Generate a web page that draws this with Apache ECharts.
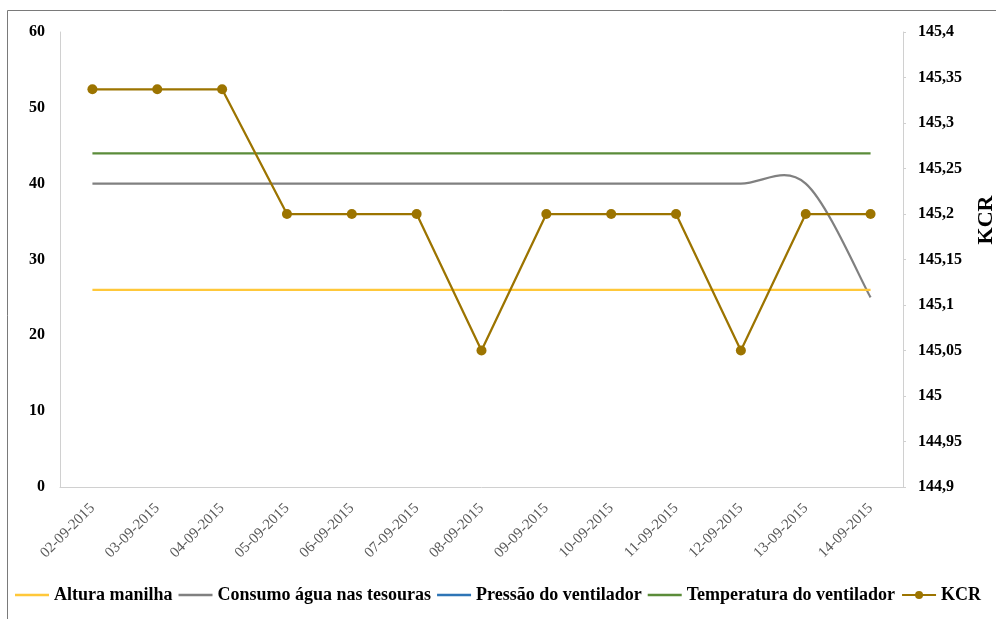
<!DOCTYPE html>
<html>
<head>
<meta charset="utf-8">
<script src="https://cdn.jsdelivr.net/npm/echarts@6/dist/echarts.min.js"></script>
<style>
  html, body { margin: 0; padding: 0; background: #fff; }
  #chart { width: 996px; height: 619px; }
</style>
</head>
<body>
<div id="chart"></div>
<script>
// Daily readings, 2 to 14 September 2015
const dates = ['02-09-2015', '03-09-2015', '04-09-2015', '05-09-2015', '06-09-2015', '07-09-2015',
  '08-09-2015', '09-09-2015', '10-09-2015', '11-09-2015', '12-09-2015', '13-09-2015', '14-09-2015'];

const alturaManilha = [26, 26, 26, 26, 26, 26, 26, 26, 26, 26, 26, 26, 26];
const consumoAgua = [40, 40, 40, 40, 40, 40, 40, 40, 40, 40, 40, 40, 25];
const pressaoVentilador = [null, null, null, null, null, null, null, null, null, null, null, null, null];
const temperaturaVentilador = [44, 44, 44, 44, 44, 44, 44, 44, 44, 44, 44, 44, 44];
const kcr = [145.337, 145.337, 145.337, 145.2, 145.2, 145.2, 145.05, 145.2, 145.2, 145.2, 145.05, 145.2, 145.2];

const leftTicks = { min: 0, max: 60, interval: 10 };
const rightTicks = { min: 144.9, max: 145.4, interval: 0.05 };

const serif = '"Liberation Serif", "DejaVu Serif", serif';
const colors = {
  altura: '#FFC83A',
  consumo: '#808080',
  pressao: '#2E75B6',
  temperatura: '#5B8C3A',
  kcr: '#9C7400'
};

// Plain horizontal stroke used as legend key for the unmarked lines
const lineIcon = 'path://M0,0 L34,0 L34,2.4 L0,2.4 Z';

// Spreadsheet-style smoothed curve: cubic Bezier segments whose handles
// follow the neighbouring points (allows the slight overshoot before a drop)
function smoothCurve(params, api) {
  if (params.dataIndex !== 0) return null;
  const pts = consumoAgua.map((v, i) => api.coord([i, v]));
  const n = pts.length;
  const P = i => pts[Math.max(0, Math.min(n - 1, i))];
  let d = 'M' + pts[0][0] + ',' + pts[0][1];
  for (let i = 0; i < n - 1; i++) {
    const p0 = P(i - 1), p1 = P(i), p2 = P(i + 1), p3 = P(i + 2);
    const c1x = p1[0] + (p2[0] - p0[0]) / 6;
    const c1y = p1[1] + (p2[1] - p0[1]) / 6;
    const c2x = p2[0] - (p3[0] - p1[0]) / 6;
    const c2y = p2[1] - (p3[1] - p1[1]) / 6;
    d += ' C' + c1x + ',' + c1y + ' ' + c2x + ',' + c2y + ' ' + p2[0] + ',' + p2[1];
  }
  return {
    type: 'path',
    shape: { pathData: d },
    style: { fill: 'none', stroke: colors.consumo, lineWidth: 2.25 }
  };
}

const chart = echarts.init(document.getElementById('chart'));

chart.setOption({
  animation: false,
  backgroundColor: '#ffffff',
  graphic: [{
    type: 'rect',
    shape: { x: 7.5, y: 10.5, width: 1100, height: 800 },
    style: { fill: 'none', stroke: '#7a7a7a', lineWidth: 1 },
    silent: true
  }, {
    type: 'text',
    x: 986,
    y: 220,
    rotation: Math.PI / 2,
    style: {
      text: 'KCR',
      align: 'center',
      verticalAlign: 'middle',
      fontFamily: serif,
      fontWeight: 'bold',
      fontSize: 22,
      fill: '#000'
    },
    silent: true
  }],
  grid: { left: 60, right: 93, top: 32, bottom: 132, outerBoundsMode: 'none', containLabel: false },
  legend: {
    bottom: 10,
    left: 10,
    itemWidth: 34,
    itemHeight: 10,
    itemGap: 6,
    textStyle: { fontFamily: serif, fontWeight: 'bold', fontSize: 18, color: '#000' },
    data: [
      { name: 'Altura manilha', icon: lineIcon },
      { name: 'Consumo água nas tesouras', icon: lineIcon },
      { name: 'Pressão do ventilador', icon: lineIcon },
      { name: 'Temperatura do ventilador', icon: lineIcon },
      { name: 'KCR' }
    ]
  },
  xAxis: {
    type: 'category',
    data: dates,
    boundaryGap: true,
    axisLine: { lineStyle: { color: '#d0d0d0', width: 1 } },
    axisTick: { show: false },
    axisLabel: {
      rotate: 45,
      interval: 0,
      margin: 19,
      fontFamily: serif,
      fontSize: 15,
      color: '#595959'
    }
  },
  yAxis: [{
    type: 'value',
    min: leftTicks.min,
    max: leftTicks.max,
    interval: leftTicks.interval,
    splitLine: { show: false },
    axisLine: { show: true, lineStyle: { color: '#d0d0d0' } },
    axisTick: { show: false },
    axisLabel: {
      margin: 15,
      fontFamily: serif,
      fontWeight: 'bold',
      fontSize: 16,
      color: '#000'
    }
  }, {
    type: 'value',
    position: 'right',
    min: rightTicks.min,
    max: rightTicks.max,
    interval: rightTicks.interval,
    splitLine: { show: false },
    axisLine: { show: true, lineStyle: { color: '#d0d0d0' } },
    axisTick: { show: true, length: 3, lineStyle: { color: '#d0d0d0' } },
    axisLabel: {
      margin: 15,
      fontFamily: serif,
      fontWeight: 'bold',
      fontSize: 16,
      color: '#000',
      formatter: v => String(+v.toFixed(2)).replace('.', ',')
    }
  }],
  series: [{
    name: 'Altura manilha',
    type: 'line',
    data: alturaManilha,
    symbol: 'none',
    lineStyle: { color: colors.altura, width: 2.25 },
    itemStyle: { color: colors.altura }
  }, {
    name: 'Consumo água nas tesouras',
    type: 'custom',
    data: consumoAgua.map((v, i) => [i, v]),
    encode: { x: 0, y: 1 },
    renderItem: smoothCurve,
    itemStyle: { color: colors.consumo }
  }, {
    name: 'Pressão do ventilador',
    type: 'line',
    data: pressaoVentilador,
    symbol: 'none',
    lineStyle: { color: colors.pressao, width: 2.25 },
    itemStyle: { color: colors.pressao }
  }, {
    name: 'Temperatura do ventilador',
    type: 'line',
    data: temperaturaVentilador,
    symbol: 'none',
    lineStyle: { color: colors.temperatura, width: 2.25 },
    itemStyle: { color: colors.temperatura }
  }, {
    name: 'KCR',
    type: 'line',
    yAxisIndex: 1,
    data: kcr,
    symbol: 'circle',
    symbolSize: 10,
    lineStyle: { color: colors.kcr, width: 2.25 },
    itemStyle: { color: colors.kcr }
  }]
});
</script>
</body>
</html>
